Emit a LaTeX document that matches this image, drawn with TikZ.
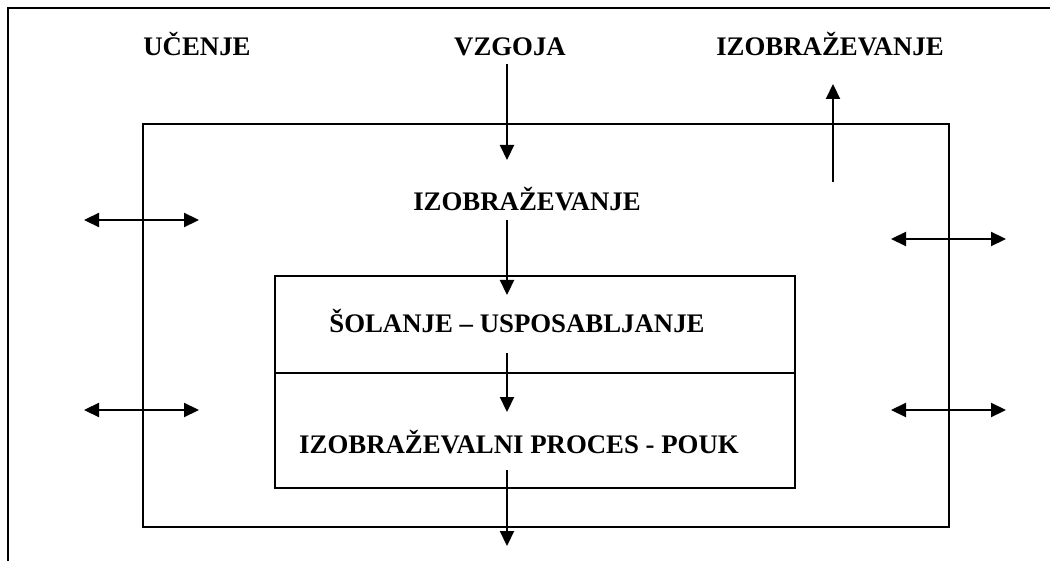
\documentclass[tikz,border=0pt]{standalone}
\usepackage{fontspec}
\setmainfont{Liberation Serif}
\usetikzlibrary{arrows.meta}

\begin{document}
\begin{tikzpicture}[x=0.5pt, y=-0.5pt, line width=1.3pt,
        lbl/.style={font=\bfseries\fontsize{13.4}{15}\selectfont, inner sep=0pt, anchor=base},
        arr/.style={-{Triangle[length=7.5pt,width=7pt]}, line width=1.1pt},
        darr/.style={{Triangle[length=7.5pt,width=7pt]}-{Triangle[length=7.5pt,width=7pt]}, line width=1.1pt}]
        \useasboundingbox (0,0) rectangle (1050,561);

        % outer frame (only top and left edge)
        \draw (8,561) -- (8,8) -- (1050,8);

        % middle box, inner box with divider
        \draw (143,124) rectangle (949,527);
        \draw (275,276) rectangle (795,488);
        \draw (275,373) -- (795,373);

        % labels
        \node[lbl] (ucenje) at (197,56) {UČENJE};
        \node[lbl] (vzgoja) at (510,56) {VZGOJA};
        \node[lbl] (izobTop) at (830,56) {IZOBRAŽEVANJE};
        \node[lbl] (izobMid) at (527,211) {IZOBRAŽEVANJE};
        \node[lbl] (solanje) at (517,333) {ŠOLANJE – USPOSABLJANJE};
        \node[lbl] (pouk) at (519,453) {IZOBRAŽEVALNI PROCES - POUK};

        % arrow ends
        \coordinate (vzStart) at (507,64);
        \coordinate (vzEnd) at (507,160);
        \coordinate (midStart) at (507,220);
        \coordinate (midEnd) at (507,295);
        \coordinate (solStart) at (507,353);
        \coordinate (solEnd) at (507,412);
        \coordinate (poukStart) at (507,470);
        \coordinate (poukEnd) at (507,546);
        \coordinate (upStart) at (833,182);
        \coordinate (upEnd) at (833,84);

        % downward chain
        \draw[arr] (vzStart) -- (vzEnd);
        \draw[arr] (midStart) -- (midEnd);
        \draw[arr] (solStart) -- (solEnd);
        \draw[arr] (poukStart) -- (poukEnd);

        % upward arrow to IZOBRAZEVANJE
        \draw[arr] (upStart) -- (upEnd);

        % exchange arrows across the middle box
        \coordinate (lt1) at (84,220);  \coordinate (lt2) at (199,220);
        \coordinate (lb1) at (84,410);  \coordinate (lb2) at (199,410);
        \coordinate (rt1) at (891,239); \coordinate (rt2) at (1006,239);
        \coordinate (rb1) at (891,410); \coordinate (rb2) at (1006,410);
        \draw[darr] (lt1) -- (lt2);
        \draw[darr] (lb1) -- (lb2);
        \draw[darr] (rt1) -- (rt2);
        \draw[darr] (rb1) -- (rb2);
\end{tikzpicture}
\end{document}
